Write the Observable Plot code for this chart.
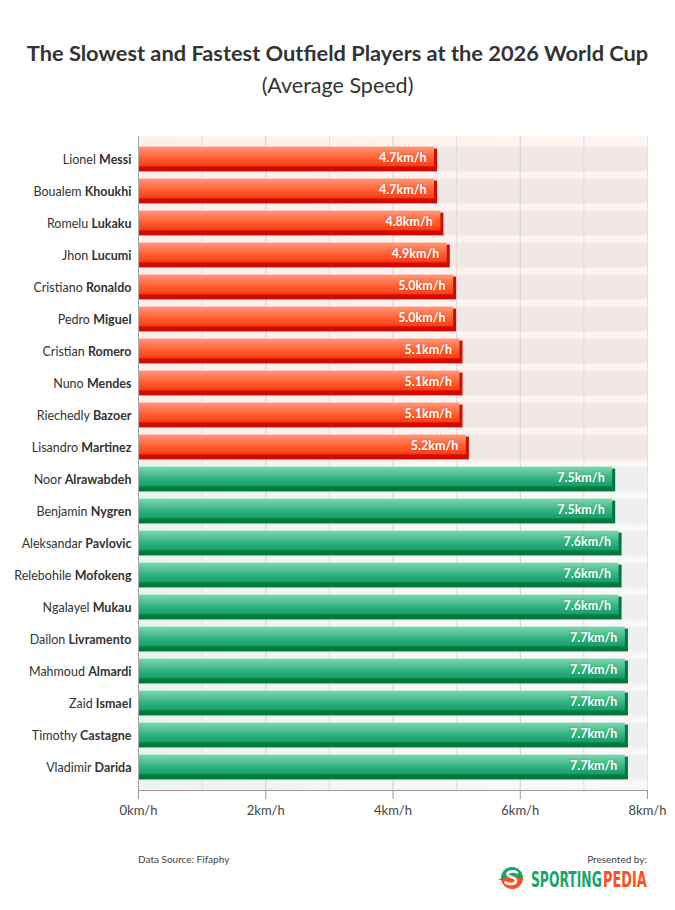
<!DOCTYPE html>
<html>
<head>
<meta charset="utf-8">
<script src="https://cdn.jsdelivr.net/npm/d3@7"></script>
<script src="https://cdn.jsdelivr.net/npm/@observablehq/plot@0.6"></script>
<style>
  html, body { margin: 0; padding: 0; background: #fff; }
  body { width: 675px; height: 910px; position: relative; font-family: Lato, "Open Sans", sans-serif; color: #333; overflow: hidden; }
  #title { position: absolute; top: 39px; left: 0; width: 675px; text-align: center; font-size: 21.8px; font-weight: 700; color: #333; }
  #subtitle { position: absolute; top: 72px; left: 0; width: 675px; text-align: center; font-size: 21.5px; font-weight: 400; color: #333; }
  #chart { position: absolute; top: 120px; left: 0; }
  #source { position: absolute; top: 853px; left: 138px; font-size: 10px; color: #444; }
  #presented { position: absolute; top: 853px; right: 28px; font-size: 10px; color: #444; }
  #logo { position: absolute; top: 864px; left: 498px; }
</style>
</head>
<body>
<div id="title">The Slowest and Fastest Outfield Players at the 2026 World Cup</div>
<div id="subtitle">(Average Speed)</div>
<div id="chart"></div>
<div id="source">Data Source: Fifaphy</div>
<div id="presented">Presented by:</div>
<svg id="logo" width="152" height="30" viewBox="0 0 152 30">
  <path d="M3,14 A11,11 0 0 1 25,14 Z" fill="#1aa36b"/>
  <path d="M3,14 A11,11 0 0 0 25,14 Z" fill="#ff4f1f"/>
  <path d="M0,16 L6,13 L6,16 Z" fill="#1aa36b"/>
  <path d="M19,8.5 C16,6.5 9,7.5 9.5,10.5 C10,13.5 18.5,12.5 18,17 C17.5,21 10,20.5 7.5,18.5" stroke="#fff" stroke-width="2.6" fill="none" stroke-linecap="round"/>
  <g transform="scale(0.6,1)">
    <text x="55" y="23" fill="#1aa36b" font-family="DejaVu Sans" font-weight="700" font-size="21" textLength="118" lengthAdjust="spacingAndGlyphs">SPORTING</text>
    <text x="175" y="23" fill="#ff4f1f" font-family="DejaVu Sans" font-weight="700" font-size="21" textLength="73" lengthAdjust="spacingAndGlyphs">PEDIA</text>
  </g>
</svg>
<script>
// ---- data ----
const players = [
  "Lionel Messi", "Boualem Khoukhi", "Romelu Lukaku", "Jhon Lucumi", "Cristiano Ronaldo",
  "Pedro Miguel", "Cristian Romero", "Nuno Mendes", "Riechedly Bazoer", "Lisandro Martinez",
  "Noor Alrawabdeh", "Benjamin Nygren", "Aleksandar Pavlovic", "Relebohile Mofokeng", "Ngalayel Mukau",
  "Dailon Livramento", "Mahmoud Almardi", "Zaid Ismael", "Timothy Castagne", "Vladimir Darida"
];
const speeds = [4.7, 4.7, 4.8, 4.9, 5.0, 5.0, 5.1, 5.1, 5.1, 5.2,
                7.5, 7.5, 7.6, 7.6, 7.6, 7.7, 7.7, 7.7, 7.7, 7.7];
const groups = ["slowest","slowest","slowest","slowest","slowest","slowest","slowest","slowest","slowest","slowest",
                "fastest","fastest","fastest","fastest","fastest","fastest","fastest","fastest","fastest","fastest"];
const xTicks = [0, 2, 4, 6, 8];
const minorGrid = [1, 3, 5, 7];
const majorGrid = [2, 4, 6];

const data = players.map((p, i) => ({player: p, speed: speeds[i], group: groups[i]}));
const slow = data.filter(d => d.group === "slowest");
const fast = data.filter(d => d.group === "fastest");

const inset = 3.6;

const chart = Plot.plot({
  width: 675,
  height: 720,
  marginLeft: 138,
  marginRight: 28,
  marginTop: 16,
  marginBottom: 50,
  style: {fontFamily: "Lato, sans-serif", background: "transparent"},
  x: {domain: [0, 8]},
  y: {domain: players, paddingInner: 0, paddingOuter: 0.135},
  marks: [
    Plot.frame({fill: "url(#gapRed)", stroke: null}),
    Plot.barX(fast, {x1: 0, x2: 8, y: "player", fill: "url(#gapGreen)", insetBottom: -5}),
    Plot.barX(slow, {x1: 0, x2: 8, y: "player", fill: "url(#bandRed)", insetTop: inset, insetBottom: inset}),
    Plot.barX(fast, {x1: 0, x2: 8, y: "player", fill: "url(#bandGreen)", insetTop: inset, insetBottom: inset}),
    Plot.ruleX(minorGrid, {stroke: "#e4dcda", strokeWidth: 1}),
    Plot.ruleX(majorGrid, {stroke: "#d6cfcd", strokeWidth: 1}),
    Plot.ruleX([8], {stroke: "#e2e2e2", strokeWidth: 1}),
    // 3D shadow
    Plot.barX(slow, {x1: 0, x2: "speed", y: "player", fill: "#cf0a00", insetTop: inset + 2, insetBottom: inset}),
    Plot.barX(fast, {x1: 0, x2: "speed", y: "player", fill: "#00773f", insetTop: inset + 2, insetBottom: inset}),
    // main bars
    Plot.barX(slow, {x1: 0, x2: "speed", y: "player", fill: "url(#barRed)", insetTop: inset, insetBottom: inset + 5, insetRight: 3}),
    Plot.barX(fast, {x1: 0, x2: "speed", y: "player", fill: "url(#barGreen)", insetTop: inset, insetBottom: inset + 5, insetRight: 3}),
    Plot.text(data, {
      x: "speed", y: "player", text: d => d.speed.toFixed(1) + "km/h",
      textAnchor: "end", dx: -11, dy: -2, fill: "white", fontWeight: "bold", fontSize: 12.5,
      stroke: "rgba(0,0,0,0.1)", strokeWidth: 1.5
    }),
    Plot.axisY({tickSize: 0, tickPadding: 7, fontSize: 12.5, color: "#333", label: null}),
    Plot.axisX({ticks: xTicks, tickFormat: d => d + "km/h", tickSize: 9, tickPadding: 6, fontSize: 13, color: "#444", label: null, stroke: "#999"}),
    Plot.frame({anchor: "bottom", stroke: "#999"}),
    Plot.ruleX([0], {stroke: "#aaa"})
  ]
});

// gradients
const svgNS = "http://www.w3.org/2000/svg";
const defs = document.createElementNS(svgNS, "defs");
defs.innerHTML = `
  <linearGradient id="barRed" x1="0" y1="0" x2="0" y2="1">
    <stop offset="0" stop-color="#ff9a7c"/>
    <stop offset="0.45" stop-color="#ff6a40"/>
    <stop offset="1" stop-color="#ff3a0c"/>
  </linearGradient>
  <linearGradient id="barGreen" x1="0" y1="0" x2="0" y2="1">
    <stop offset="0" stop-color="#82d6b2"/>
    <stop offset="0.5" stop-color="#3cb887"/>
    <stop offset="1" stop-color="#119e68"/>
  </linearGradient>
  <linearGradient id="bandRed" x1="0" y1="0" x2="1" y2="0">
    <stop offset="0" stop-color="#fde0d7"/>
    <stop offset="0.4" stop-color="#f2e8e4"/>
    <stop offset="1" stop-color="#efe8e5"/>
  </linearGradient>
  <linearGradient id="bandGreen" x1="0" y1="0" x2="1" y2="0">
    <stop offset="0" stop-color="#ddf2e8"/>
    <stop offset="0.4" stop-color="#ebf1ed"/>
    <stop offset="1" stop-color="#edf0ee"/>
  </linearGradient>
  <linearGradient id="gapRed" x1="0" y1="0" x2="1" y2="0">
    <stop offset="0" stop-color="#feefea"/>
    <stop offset="1" stop-color="#fdf5f2"/>
  </linearGradient>
  <linearGradient id="gapGreen" x1="0" y1="0" x2="1" y2="0">
    <stop offset="0" stop-color="#e6f6ee"/>
    <stop offset="0.6" stop-color="#f5faf7"/>
    <stop offset="1" stop-color="#f7f9f8"/>
  </linearGradient>`;
chart.insertBefore(defs, chart.firstChild);

// mixed-weight y labels: first name regular, surname bold
chart.querySelectorAll('g[aria-label="y-axis tick label"] text').forEach(t => {
  const full = t.textContent;
  const k = full.lastIndexOf(" ");
  const first = full.slice(0, k + 1);
  const last = full.slice(k + 1);
  while (t.firstChild) t.removeChild(t.firstChild);
  const a = document.createElementNS(svgNS, "tspan");
  a.textContent = first;
  const b = document.createElementNS(svgNS, "tspan");
  b.textContent = last;
  b.setAttribute("font-weight", "bold");
  t.appendChild(a); t.appendChild(b);
});

document.getElementById("chart").appendChild(chart);
</script>
</body>
</html>
